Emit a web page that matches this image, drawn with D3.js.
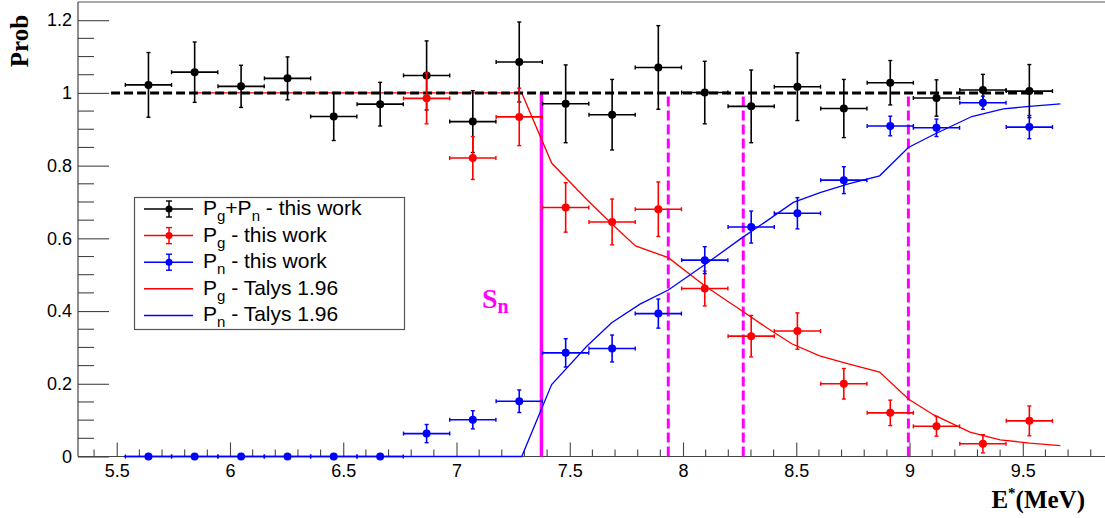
<!DOCTYPE html>
<html><head><meta charset="utf-8">
<script src="https://cdn.jsdelivr.net/npm/d3@7"></script>
<style>body{margin:0;background:#fff;} svg{display:block;}</style>
</head><body><svg id="c" width="1105" height="518"></svg>
<script>
// ---------- data ----------
const energies = [5.640,5.844,6.049,6.254,6.458,6.663,6.868,7.072,7.277,7.482,7.687,7.891,8.096,8.301,8.505,8.710,8.915,9.119,9.324,9.529];
const binHalfWidth = 0.102;
const sumVals = [1.022,1.057,1.018,1.040,0.935,0.969,1.048,0.921,1.085,0.970,0.940,1.070,1.001,0.963,1.017,0.957,1.028,0.986,1.008,1.005];
const sumErr  = [0.089,0.083,0.058,0.059,0.066,0.060,0.095,0.085,0.110,0.107,0.097,0.115,0.086,0.100,0.093,0.080,0.061,0.050,0.043,0.073];
const pgVals  = [null,null,null,null,null,null,0.985,0.821,0.934,0.685,0.645,0.680,0.462,0.331,0.345,0.200,0.120,0.083,0.035,0.098];
const pgErr   = [null,null,null,null,null,null,0.070,0.059,0.079,0.068,0.063,0.075,0.048,0.057,0.050,0.042,0.035,0.027,0.025,0.041];
const pnVals  = [0,0,0,0,0,0,0.063,0.101,0.152,0.285,0.297,0.393,0.540,0.631,0.669,0.760,0.909,0.904,0.973,0.906];
const pnErr   = [0,0,0,0,0,0,0.025,0.025,0.031,0.039,0.037,0.040,0.037,0.044,0.043,0.037,0.027,0.024,0.018,0.032];

const talysPgE = [5.843,7.288,7.420,7.575,7.685,7.790,7.935,8.097,8.266,8.370,8.480,8.603,8.730,8.868,8.995,9.105,9.267,9.400,9.530,9.666];
const talysPg  = [1.000,1.000,0.807,0.707,0.640,0.579,0.547,0.469,0.398,0.354,0.310,0.277,0.255,0.232,0.158,0.115,0.067,0.046,0.037,0.030];
const talysPnE = [5.533,7.288,7.420,7.575,7.685,7.810,7.935,8.097,8.266,8.370,8.487,8.605,8.730,8.868,8.995,9.105,9.275,9.414,9.530,9.666];
const talysPn  = [0.000,0.000,0.198,0.303,0.368,0.419,0.458,0.528,0.604,0.648,0.699,0.726,0.750,0.772,0.850,0.885,0.935,0.956,0.963,0.970];

const unityRange = [5.475, 9.606];
const snEnergy = 7.375;
const dashedEnergies = [7.935, 8.266, 8.995];

const xMajorTicks = [5.5,6,6.5,7,7.5,8,8.5,9,9.5];
const xTickLabels = ["5.5","6","6.5","7","7.5","8","8.5","9","9.5"];
const yMajorTicks = [0,0.2,0.4,0.6,0.8,1,1.2];
const yTickLabels = ["0","0.2","0.4","0.6","0.8","1","1.2"];

const legendRows = [
  {parts:[["P",""],["g","sub"],["+P",""],["n","sub"],[" - this work",""]], color:"#000", type:"pt"},
  {parts:[["P",""],["g","sub"],[" - this work",""]], color:"#ff0000", type:"pt"},
  {parts:[["P",""],["n","sub"],[" - this work",""]], color:"#0000ff", type:"pt"},
  {parts:[["P",""],["g","sub"],[" - Talys 1.96",""]], color:"#ff0000", type:"line"},
  {parts:[["P",""],["n","sub"],[" - Talys 1.96",""]], color:"#0000ff", type:"line"}
];

// ---------- scales ----------
const svg = d3.select("#c");
const x = d3.scaleLinear().domain([5.329, 9.863]).range([78, 1105]);
const y = d3.scaleLinear().domain([0, 1.25]).range([456.5, 2]);
const sans = "'Liberation Sans', Arial, sans-serif";
const serif = "'Liberation Serif', 'Times New Roman', serif";
const MAG = "#ff00ff";

// frame
svg.append("line").attr("x1",78).attr("x2",1105).attr("y1",2).attr("y2",2).attr("stroke","#555").attr("stroke-width",1.2);

// axes
const xAxis = d3.axisBottom(x).tickValues(xMajorTicks).tickSize(-14).tickPadding(8)
  .tickFormat((d,i)=>xTickLabels[i]);
const gx = svg.append("g").attr("transform",`translate(0,${y(0)})`).call(xAxis);
const xMinor = d3.range(54, 99).map(v=>v/10).filter(v=>!xMajorTicks.some(t=>Math.abs(t-v)<1e-6));
gx.selectAll(".minor").data(xMinor).enter().append("line")
  .attr("x1",d=>x(d)).attr("x2",d=>x(d)).attr("y1",0).attr("y2",-7).attr("stroke","#444").attr("stroke-width",1.1);

const yAxis = d3.axisLeft(y).tickValues(yMajorTicks).tickSize(-31).tickPadding(6)
  .tickFormat((d,i)=>yTickLabels[i]);
const gy = svg.append("g").attr("transform",`translate(78,0)`).call(yAxis);
const yMinor = d3.range(1, 25).map(v=>v*0.05).filter(v=>!yMajorTicks.some(t=>Math.abs(t-v)<1e-6));
gy.selectAll(".minor").data(yMinor).enter().append("line")
  .attr("x1",0).attr("x2",16).attr("y1",d=>y(d)).attr("y2",d=>y(d)).attr("stroke","#444").attr("stroke-width",1.1);

[gx,gy].forEach(g=>{
  g.select(".domain").attr("stroke","#444").attr("stroke-width",1.2);
  g.selectAll(".tick line").attr("stroke","#444").attr("stroke-width",1.1);
  g.selectAll(".tick text").attr("font-family",sans).attr("font-size",18).attr("fill","#000");
});
gx.select(".domain").attr("d",`M${x.range()[0]},0H${x.range()[1]}`);
gy.select(".domain").attr("d",`M0,${y.range()[0]}V${y.range()[1]}`);
gx.selectAll(".tick text").attr("dy","0.71em");

// axis titles
svg.append("text").attr("transform","translate(28,41) rotate(-90)").attr("text-anchor","middle")
  .attr("font-family",serif).attr("font-weight","bold").attr("font-size",25).text("Prob");
const xt = svg.append("text").attr("x",1085).attr("y",508).attr("text-anchor","end")
  .attr("font-family",serif).attr("font-weight","bold").attr("font-size",25);
xt.append("tspan").text("E");
xt.append("tspan").attr("font-size",15).attr("dy",-10).text("*");
xt.append("tspan").attr("dy",10).text("(MeV)");

// magenta markers
svg.append("line").attr("x1",x(snEnergy)).attr("x2",x(snEnergy)).attr("y1",y(0)).attr("y2",y(1))
  .attr("stroke",MAG).attr("stroke-width",3.5);
svg.selectAll(".mdash").data(dashedEnergies).enter().append("line")
  .attr("x1",d=>x(d)).attr("x2",d=>x(d)).attr("y1",y(0)).attr("y2",y(1))
  .attr("stroke",MAG).attr("stroke-width",3).attr("stroke-dasharray","10,4");
const sn = svg.append("text").attr("x",482).attr("y",308).attr("fill",MAG)
  .attr("font-family",serif).attr("font-weight","bold").attr("font-size",28);
sn.append("tspan").text("S");
sn.append("tspan").attr("font-size",20).attr("dy",5).text("n");

// Talys lines
const line = d3.line().x(d=>x(d[0])).y(d=>y(d[1]));
svg.append("path").datum(talysPgE.map((e,i)=>[e,talysPg[i]])).attr("d",line)
  .attr("fill","none").attr("stroke","#ff0000").attr("stroke-width",1.3);
svg.append("path").datum(talysPnE.map((e,i)=>[e,talysPn[i]])).attr("d",line)
  .attr("fill","none").attr("stroke","#0000ff").attr("stroke-width",1.3);

// unity dashed line
svg.append("line").attr("x1",x(unityRange[0])).attr("x2",x(unityRange[1])).attr("y1",y(1)).attr("y2",y(1))
  .attr("stroke","#000").attr("stroke-width",3).attr("stroke-dasharray","9,4");

// data points with error bars
function drawSeries(vals, errs, color){
  const g = svg.append("g");
  const data = energies.map((e,i)=>({e, v:vals[i], err:errs[i]})).filter(d=>d.v!==null);
  const cap = 2;
  data.forEach(d=>{
    const cx = x(d.e), cy = y(d.v);
    const xl = x(d.e-binHalfWidth), xr = x(d.e+binHalfWidth);
    g.append("line").attr("x1",xl).attr("x2",xr).attr("y1",cy).attr("y2",cy).attr("stroke",color).attr("stroke-width",1.6);
    g.append("line").attr("x1",xl).attr("x2",xl).attr("y1",cy-cap).attr("y2",cy+cap).attr("stroke",color).attr("stroke-width",1.4);
    g.append("line").attr("x1",xr).attr("x2",xr).attr("y1",cy-cap).attr("y2",cy+cap).attr("stroke",color).attr("stroke-width",1.4);
    if (d.err>0){
      const yt = y(d.v+d.err), yb = y(d.v-d.err);
      g.append("line").attr("x1",cx).attr("x2",cx).attr("y1",yt).attr("y2",yb).attr("stroke",color).attr("stroke-width",1.6);
      g.append("line").attr("x1",cx-cap).attr("x2",cx+cap).attr("y1",yt).attr("y2",yt).attr("stroke",color).attr("stroke-width",1.4);
      g.append("line").attr("x1",cx-cap).attr("x2",cx+cap).attr("y1",yb).attr("y2",yb).attr("stroke",color).attr("stroke-width",1.4);
    }
    g.append("circle").attr("cx",cx).attr("cy",cy).attr("r",4).attr("fill",color);
  });
}
drawSeries(sumVals, sumErr, "#000");
drawSeries(pgVals, pgErr, "#ff0000");
drawSeries(pnVals, pnErr, "#0000ff");

// legend
const lg = svg.append("g");
lg.append("rect").attr("x",134.5).attr("y",197.5).attr("width",270).attr("height",132)
  .attr("fill","#fff").attr("stroke","#555").attr("stroke-width",1.2);
legendRows.forEach((r,i)=>{
  const cy = 209 + i*26.6;
  lg.append("line").attr("x1",144).attr("x2",193).attr("y1",cy).attr("y2",cy).attr("stroke",r.color).attr("stroke-width",1.5);
  if (r.type==="pt"){
    lg.append("line").attr("x1",169).attr("x2",169).attr("y1",cy-8).attr("y2",cy+8).attr("stroke",r.color).attr("stroke-width",1.5);
    lg.append("line").attr("x1",166).attr("x2",172).attr("y1",cy-8).attr("y2",cy-8).attr("stroke",r.color).attr("stroke-width",1.4);
    lg.append("line").attr("x1",166).attr("x2",172).attr("y1",cy+8).attr("y2",cy+8).attr("stroke",r.color).attr("stroke-width",1.4);
    lg.append("circle").attr("cx",169).attr("cy",cy).attr("r",3.5).attr("fill",r.color);
  }
  const t = lg.append("text").attr("x",203).attr("y",cy+6).attr("font-family",sans).attr("font-size",21).attr("fill","#000");
  let shifted = false;
  r.parts.forEach(([s,k])=>{
    const ts = t.append("tspan").text(s);
    if (k==="sub" && !shifted){ ts.attr("font-size",15).attr("dy",6); shifted=true; }
    else if (k==="sub"){ ts.attr("font-size",15); }
    else if (shifted){ ts.attr("dy",-6); shifted=false; }
  });
});
</script></body></html>
